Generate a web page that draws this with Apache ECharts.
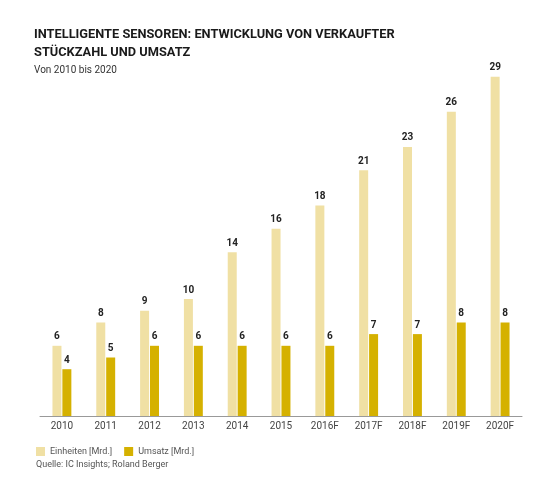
<!DOCTYPE html>
<html><head><meta charset="utf-8">
<script src="https://cdn.jsdelivr.net/npm/echarts@6/dist/echarts.min.js"></script>
<style>html,body{margin:0;padding:0;background:#fff}#c{width:551px;height:480px}</style>
</head><body><div id="c"></div>
<script>
const categories = ['2010','2011','2012','2013','2014','2015','2016F','2017F','2018F','2019F','2020F'];
const einheiten = [6,8,9,10,14,16,18,21,23,26,29];
const umsatz = [4,5,6,6,6,6,6,7,7,8,8];
const seriesNames = ['Einheiten [Mrd.]','Umsatz [Mrd.]'];

const chart = echarts.init(document.getElementById('c'));
const lbl = {show:true, position:'top', distance:4, color:'#222', fontWeight:'bold', fontSize:10, fontFamily:'Roboto'};
chart.setOption({
  backgroundColor:'#fff',
  animation:false,
  title:[
    {text:'INTELLIGENTE SENSOREN: ENTWICKLUNG VON VERKAUFTER\nSTÜCKZAHL UND UMSATZ', left:34, top:26, padding:0,
     textStyle:{fontFamily:'Roboto', fontWeight:'bold', fontSize:12.8, color:'#1a1a1a', lineHeight:18}},
    {text:'Von 2010 bis 2020', left:34, top:65, padding:0, textStyle:{fontFamily:'Roboto', fontWeight:'normal', fontSize:10, color:'#333'}},
    {text:'Quelle: IC Insights; Roland Berger', left:36, top:460, padding:0, textStyle:{fontFamily:'Roboto', fontWeight:'normal', fontSize:9, color:'#555'}}
  ],
  legend:{left:36, top:447, padding:0, itemWidth:9, itemHeight:9, itemGap:12, icon:'rect',
    textStyle:{fontFamily:'Roboto', fontSize:9, color:'#555'}, data:seriesNames},
  grid:{left:40, right:29, top:65, bottom:64},
  xAxis:{type:'category', data:categories,
    axisLine:{lineStyle:{color:'#999', width:1}}, axisTick:{show:false},
    axisLabel:{color:'#444', fontFamily:'Roboto', fontSize:10, margin:5}},
  yAxis:{type:'value', min:0, max:30, show:false, splitLine:{show:false}},
  series:[
    {name:seriesNames[0], type:'bar', data:einheiten, barWidth:9, barGap:'10%', itemStyle:{color:'#f0e0a4'}, label:lbl},
    {name:seriesNames[1], type:'bar', data:umsatz, barWidth:9, itemStyle:{color:'#d5b100'}, label:lbl}
  ]
});
</script></body></html>
